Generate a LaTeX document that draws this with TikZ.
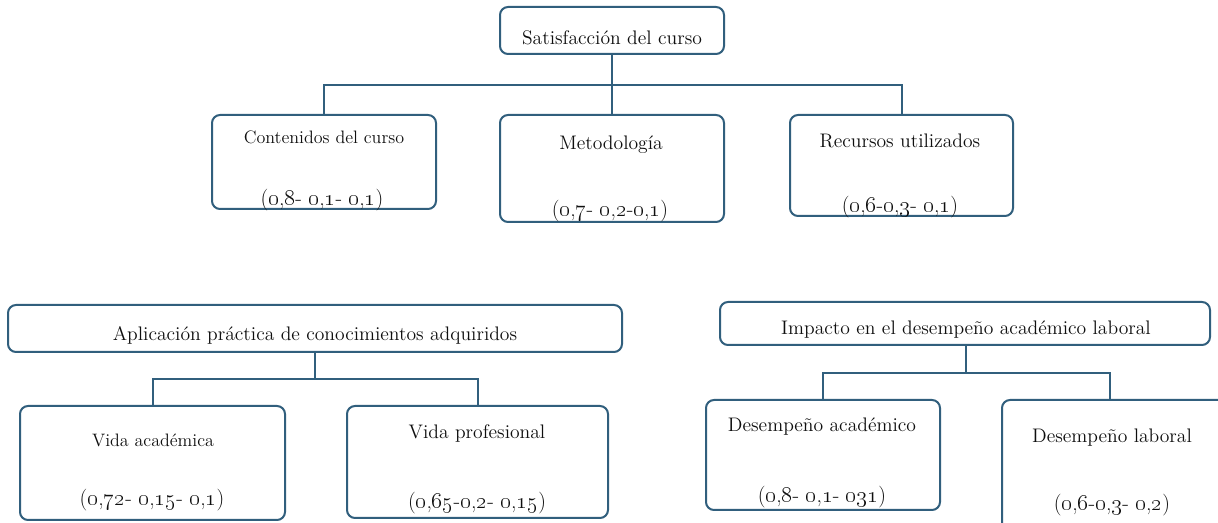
\documentclass[tikz,border=0pt]{standalone}
\usetikzlibrary{calc}
\definecolor{edge}{RGB}{49,95,125}
\definecolor{ink}{RGB}{15,15,15}
\newcommand{\os}[1]{\oldstylenums{#1}}
\begin{document}
\begin{tikzpicture}[x=0.75pt,y=-0.75pt,
  box/.style={draw=edge,line width=1.5pt,rounded corners=6pt,fill=white,inner sep=0pt},
  lab/.style={text=ink,font=\fontsize{14.7}{17}\selectfont,inner sep=0pt},
  smalllab/.style={text=ink,font=\fontsize{13.5}{16}\selectfont,inner sep=0pt},
  val/.style={text=ink,font=\fontsize{16.3}{19}\selectfont,inner sep=0pt},
  conn/.style={draw=edge,line width=1.5pt}]
\useasboundingbox[fill=white] (0,0) rectangle (1218,523);
% boxes
\node[box,minimum width=168pt,minimum height=35.25pt] (top) at (612,30.5) {};
\node[box,minimum width=168pt,minimum height=70.5pt] (cont) at (324,162) {};
\node[box,minimum width=168pt,minimum height=80.25pt] (met) at (612,168.5) {};
\node[box,minimum width=167.25pt,minimum height=75.75pt] (rec) at (901.5,165.5) {};
\node[box,minimum width=460.5pt,minimum height=35.25pt] (apl) at (315,328.5) {};
\node[box,minimum width=198.75pt,minimum height=85.5pt] (va) at (152.5,463) {};
\node[box,minimum width=195.75pt,minimum height=84pt] (vp) at (477.5,462) {};
\node[box,minimum width=367.5pt,minimum height=32.25pt] (imp) at (965,323.5) {};
\node[box,minimum width=175.5pt,minimum height=82.5pt] (da) at (823,455) {};
\node[box,minimum width=172.5pt,minimum height=97.5pt] (dl) at (1117,465) {};
% junctions
\coordinate (j1) at (612,85);
\coordinate (j2) at (315,379);
\coordinate (j3) at (966,373);
% connectors
\draw[conn] (top.south) -- (met.north);
\draw[conn] (cont.north) |- (j1) -| (rec.north);
\draw[conn] (apl.south) -- (j2);
\draw[conn] (va.north) |- (j2) -| (vp.north);
\draw[conn] (imp.south -| j3) -- (j3);
\draw[conn] (da.north) |- (j3) -| ([xshift=-5.25pt]dl.north);
% texts
\node[lab] (ttop) at (612,38) {Satisfacción del curso};
\node[smalllab] (tcont) at (324,137) {Contenidos del curso};
\node[val] (vcont) at (322,200) {(\os{0},\os{8}- \os{0},\os{1}- \os{0},\os{1})};
\node[lab] (tmet) at (611,145) {Metodología};
\node[val] (vmet) at (610,211) {(\os{0},\os{7}- \os{0},\os{2}-\os{0},\os{1})};
\node[lab] (trec) at (900,141) {Recursos utilizados};
\node[val] (vrec) at (900,207) {(\os{0},\os{6}-\os{0},\os{3}- \os{0},\os{1})};
\node[lab] (tapl) at (315,335) {Aplicación práctica de conocimientos adquiridos};
\node[smalllab] (tva) at (153,440) {Vida académica};
\node[val] (vva) at (152,500) {(\os{0},\os{72}- \os{0},\os{15}- \os{0},\os{1})};
\node[lab] (tvp) at (477,434) {Vida profesional};
\node[val] (vvp) at (477,503) {(\os{0},\os{65}-\os{0},\os{2}- \os{0},\os{15})};
\node[lab] (timp) at (966,330) {Impacto en el desempeño académico laboral};
\node[lab] (tda) at (822,427) {Desempeño académico};
\node[val] (vda) at (822,497) {(\os{0},\os{8}- \os{0},\os{1}- \os{031})};
\node[lab] (tdl) at (1112,438) {Desempeño laboral};
\node[val] (vdl) at (1112,505) {(\os{0},\os{6}-\os{0},\os{3}- \os{0},\os{2})};
\end{tikzpicture}
\end{document}
